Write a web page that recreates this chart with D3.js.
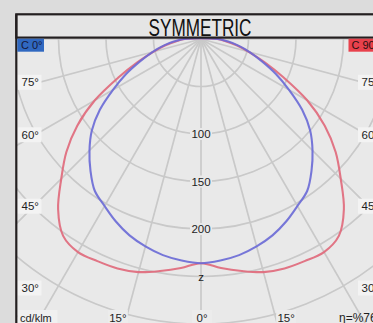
<!DOCTYPE html>
<html><head><meta charset="utf-8">
<script src="https://cdn.jsdelivr.net/npm/d3@7"></script>
<style>html,body{margin:0;padding:0;background:#dddddd;overflow:hidden}svg{display:block;font-family:"Liberation Sans",Arial,sans-serif}</style>
</head><body><svg id="c" width="373" height="323"></svg>
<script>
// ---- data (cd/klm vs angle from nadir) ----
const angles = [0,5,10,15,20,25,30,35,40,45,50,55,60,65,70,75,80,85,90];
const c0Values  = [236,234,231,226,220,212,203,195,181,166,150,130,107,87,68,53,40,28,18];
const c90Values = [236,242,248,254,257,258,259,253,234,208,185,159,129,96,71,52,38,26,17];
const ringValues = [50,100,150,200,250,300,350,400];
const ringLabelValues = [100,150,200];
const radialAngles = d3.range(-180,181,15);
const sideAngleLabels = [75,60,45,30];
const bottomAngleLabels = [-15,0,15];
const titleText = "SYMMETRIC";
const seriesNames = ["C 0°","C 90°"];

const W=373,H=323, cx=201, cy=39;
const svg=d3.select('#c');
const r=d3.scaleLinear().domain([0,100]).range([0,95]);
const rad=d=>d*Math.PI/180;
const pt=(a,v)=>[cx+r(v)*Math.sin(rad(a)), cy+r(v)*Math.cos(rad(a))];

const frameL=16.3, frameR=2*cx-frameL, topY=14.3, titleB=37.6;
svg.append('rect').attr('width',W).attr('height',H).attr('fill','#dcdcdc');
const defs=svg.append('defs');
defs.append('clipPath').attr('id','area').append('rect')
  .attr('x',frameL).attr('y',titleB).attr('width',frameR-frameL).attr('height',H);
defs.append('filter').attr('id','soft').append('feGaussianBlur').attr('stdDeviation',0.45);
svg.append('rect').attr('x',frameL).attr('y',titleB).attr('width',frameR-frameL).attr('height',H)
  .attr('fill','#e9e9e9');

const g=svg.append('g').attr('clip-path','url(#area)');
const grid=g.append('g').attr('filter','url(#soft)');
grid.selectAll('circle.ring').data(ringValues).join('circle').attr('class','ring')
  .attr('cx',cx).attr('cy',cy).attr('r',d=>r(d))
  .attr('fill','none').attr('stroke','#c9c9c9').attr('stroke-width',1.7);
grid.selectAll('line.rad').data(radialAngles).join('line').attr('class','rad')
  .attr('x1',cx).attr('y1',cy)
  .attr('x2',d=>pt(d,700)[0]).attr('y2',d=>pt(d,700)[1])
  .attr('stroke','#c9c9c9').attr('stroke-width',1.7);

function fullPts(vals){
  const left=angles.map((a,i)=>pt(-a,vals[i])).reverse();
  const right=angles.slice(1).map((a,i)=>pt(a,vals[i+1]));
  return left.concat(right);
}
const line=d3.line().curve(d3.curveCatmullRomClosed.alpha(0.5));
const cg=g.append('g').attr('filter','url(#soft)');
cg.append('path').attr('d',line(fullPts(c90Values))).attr('fill','none')
  .attr('stroke','#e0687a').attr('stroke-width',2.1).attr('stroke-opacity',0.9);
cg.append('path').attr('d',line(fullPts(c0Values))).attr('fill','none')
  .attr('stroke','#6a6ad6').attr('stroke-width',2.1).attr('stroke-opacity',0.9);

// ring labels
const lg=svg.append('g').attr('font-size',11.5).attr('fill','#1e1e1e');
ringLabelValues.forEach(v=>{
  const y=cy+r(v);
  lg.append('rect').attr('x',cx-11).attr('y',y-6).attr('width',22).attr('height',12).attr('fill','#e9e9e9');
  lg.append('text').attr('x',cx).attr('y',y+4).attr('text-anchor','middle').text(v);
});
lg.append('text').attr('x',cx).attr('y',cy+r(250)+4).attr('text-anchor','middle').text('z');

// side angle labels
const sideY=a=>Math.min(cy-2+0.92*(cx-17)/Math.tan(rad(a)),288);
sideAngleLabels.forEach(a=>{
  const y=sideY(a);
  lg.append('rect').attr('x',17.5).attr('y',y-7.5).attr('width',24).attr('height',15).attr('fill','#f3f3f3');
  lg.append('text').attr('x',21.5).attr('y',y+4).text(a+'°');
  lg.append('rect').attr('x',358).attr('y',y-7.5).attr('width',24).attr('height',15).attr('fill','#f3f3f3');
  lg.append('text').attr('x',361.5).attr('y',y+4).text(a+'°');
});
const bottomY=318;
const bx=a=>cx+1+(328-cy)/0.92*Math.tan(rad(Math.abs(a)))*Math.sign(a);
bottomAngleLabels.forEach(a=>{
  lg.append('rect').attr('x',bx(a)-10).attr('y',bottomY-8).attr('width',20).attr('height',15).attr('fill','#ececec');
  lg.append('text').attr('x',bx(a)).attr('y',bottomY+4).attr('text-anchor','middle').text(Math.abs(a)+'°');
});
lg.append('rect').attr('x',17.5).attr('y',bottomY-8).attr('width',40).attr('height',15).attr('fill','#f0f0f0');
lg.append('text').attr('x',20).attr('y',bottomY+4).attr('font-size',11).text('cd/klm');
lg.append('text').attr('x',339).attr('y',bottomY+4).attr('font-size',12).text('η=%76');

// title box & frame
svg.append('rect').attr('x',frameL).attr('y',topY).attr('width',frameR-frameL).attr('height',titleB-topY)
  .attr('fill','#e5e5e5').attr('stroke','#231f20').attr('stroke-width',2.2);
svg.append('line').attr('x1',frameL).attr('x2',frameL).attr('y1',topY).attr('y2',H)
  .attr('stroke','#231f20').attr('stroke-width',2.2);
svg.append('text').attr('x',cx-1).attr('y',36).attr('text-anchor','middle')
  .attr('font-family','"Liberation Sans Narrow","Liberation Sans",Arial,sans-serif')
  .attr('font-size',23).attr('fill','#111').attr('textLength',103).attr('lengthAdjust','spacingAndGlyphs')
  .text(titleText);

// series tags
svg.append('rect').attr('x',17.3).attr('y',38.7).attr('width',26.7).attr('height',13).attr('fill','#3068c0');
svg.append('text').attr('x',21).attr('y',49.3).attr('font-size',11).attr('fill','#16183a').text(seriesNames[0]);
svg.append('rect').attr('x',348.5).attr('y',38.7).attr('width',36).attr('height',13).attr('fill','#e8414c');
svg.append('text').attr('x',351.5).attr('y',49.3).attr('font-size',11).attr('fill','#2a1010').text(seriesNames[1]);
</script></body></html>
